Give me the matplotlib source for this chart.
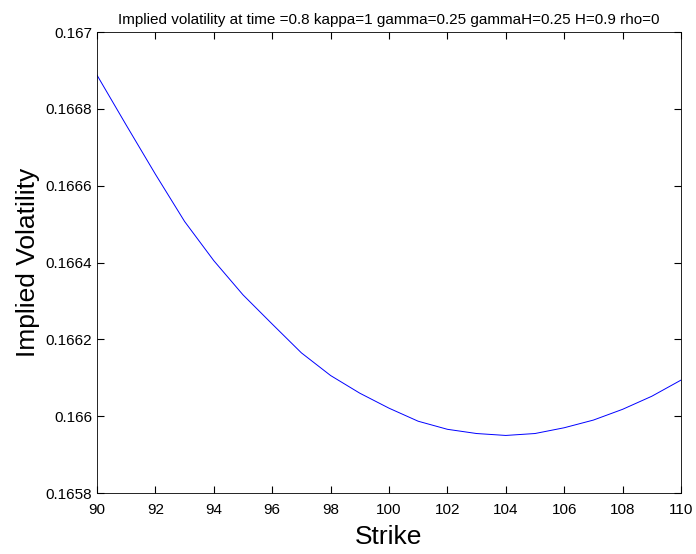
import numpy as np
import matplotlib
matplotlib.use('Agg')
import matplotlib.pyplot as plt
from matplotlib.ticker import FuncFormatter

strike = [90, 91, 92, 93, 94, 95, 96, 97, 98, 99, 100,
          101, 102, 103, 104, 105, 106, 107, 108, 109, 110]
impvol = [0.166888, 0.166758, 0.166630, 0.166507, 0.166405, 0.166316,
          0.166240, 0.166165, 0.166106, 0.166060, 0.166021, 0.165987,
          0.165966, 0.165955, 0.165950, 0.165955, 0.165970, 0.165990,
          0.166018, 0.166052, 0.166094]
xticks = np.arange(90, 111, 2)
yticks = [0.1658, 0.166, 0.1662, 0.1664, 0.1666, 0.1668, 0.167]

plt.rcParams['font.family'] = ['Liberation Sans', 'DejaVu Sans']
fig = plt.figure(figsize=(6.96, 5.54), dpi=100)
ax = fig.add_axes([0.1394, 0.110, 0.839, 0.832])
ax.plot(strike, impvol, color='blue', lw=0.7)
ax.set_xlim(90, 110)
ax.set_ylim(0.1658, 0.167)
ax.set_xticks(xticks)
ax.set_yticks(yticks)
ax.yaxis.set_major_formatter(FuncFormatter(lambda v, p: '%g' % round(v, 5)))
ax.tick_params(direction='in', top=True, right=True, labelsize=11, length=5)
ax.tick_params(axis='x', pad=7)
for s in ax.spines.values():
    s.set_linewidth(0.6)
ax.set_xlabel('Strike', fontsize=19, labelpad=6)
ax.set_ylabel('Implied Volatility', fontsize=19)
ax.set_title('Implied volatility at time =0.8 kappa=1 gamma=0.25 gammaH=0.25 H=0.9 rho=0', fontsize=11)
fig.savefig('out.png', dpi=100)
